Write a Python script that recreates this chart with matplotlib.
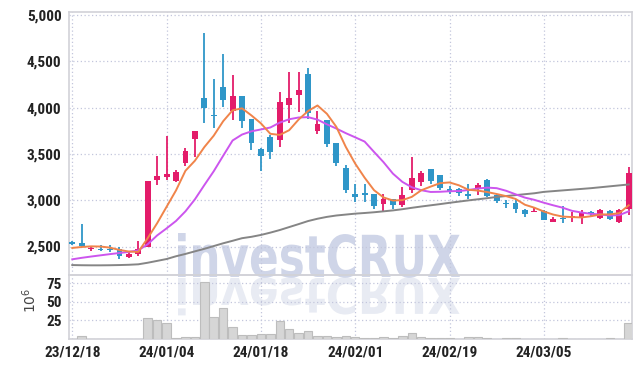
import numpy as np
import matplotlib
matplotlib.use('Agg')
import matplotlib.pyplot as plt
from matplotlib import font_manager
from matplotlib.textpath import TextPath
from matplotlib.patches import PathPatch
from matplotlib.font_manager import FontProperties
from matplotlib.transforms import Affine2D

# daily candles, trading days from 23/12/18
opens = [2550, 2540, 2478, 2472, 2475, 2478, 2392, 2418, 2500, 3215,
         3255, 3210, 3405, 3660, 4100, 3915, 4220, 3960, 4120, 3875,
         3550, 3680, 3645, 4030, 4135, 4360, 3750, 3865, 3615, 3345,
         3065, 3080, 3065, 2960, 3010, 2950, 3110, 3195, 3335, 3270,
         3125, 3125, 3060, 3120, 3215, 3055, 2970, 2965, 2895, 2870,
         2887, 2762, 2808, 2818, 2805, 2875, 2812, 2882, 2770, 2905]
highs = [2555, 2740, 2510, 2515, 2520, 2490, 2445, 2565, 3210, 3475,
         3690, 3330, 3565, 3750, 4800, 4305, 4575, 4350, 4125, 3880,
         3560, 3705, 4170, 4380, 4380, 4425, 3965, 3870, 3620, 3375,
         3180, 3180, 3070, 3065, 3015, 3145, 3470, 3320, 3340, 3275,
         3155, 3130, 3170, 3190, 3225, 3070, 3000, 3010, 2910, 2930,
         2890, 2822, 2935, 2875, 2895, 2888, 2908, 2890, 2905, 3355]
lows = [2520, 2490, 2455, 2450, 2445, 2370, 2375, 2400, 2490, 3165,
        3220, 3195, 3365, 3470, 3830, 3785, 4005, 3865, 3775, 3540,
        3320, 3450, 3570, 3830, 3955, 3875, 3710, 3575, 3370, 3075,
        2980, 2985, 2900, 2870, 2910, 2925, 3075, 3155, 3175, 3110,
        3070, 3050, 3015, 3055, 3040, 2965, 2915, 2860, 2815, 2868,
        2785, 2760, 2750, 2770, 2745, 2822, 2798, 2790, 2758, 2840]
closes = [2525, 2505, 2488, 2460, 2462, 2400, 2418, 2472, 3205, 3265,
          3285, 3305, 3530, 3745, 4000, 3905, 4085, 4120, 3850, 3615,
          3480, 3520, 4060, 4105, 4190, 3940, 3820, 3610, 3400, 3110,
          3035, 3060, 2935, 3010, 2945, 3055, 3235, 3290, 3210, 3130,
          3095, 3080, 3052, 3165, 3050, 2990, 2962, 2905, 2850, 2887,
          2787, 2797, 2792, 2825, 2870, 2850, 2895, 2795, 2895, 3290]

ma_short = [2485, 2495, 2502, 2500, 2488, 2463, 2446, 2442, 2591, 2752,
            2929, 3106, 3318, 3426, 3573, 3697, 3853, 3971, 3992, 3915,
            3830, 3717, 3705, 3756, 3871, 3963, 4023, 3933, 3792, 3576,
            3395, 3243, 3108, 3030, 2997, 3001, 3036, 3107, 3147, 3184,
            3192, 3161, 3113, 3104, 3088, 3067, 3044, 3014, 2951, 2919,
            2878, 2845, 2823, 2818, 2814, 2827, 2846, 2847, 2861, 2945]
ma_mid = [2362, 2378, 2392, 2405, 2418, 2430, 2442, 2458, 2525, 2620,
          2696, 2776, 2880, 3009, 3163, 3313, 3480, 3645, 3709, 3744,
          3764, 3785, 3838, 3874, 3893, 3897, 3870, 3819, 3774, 3724,
          3679, 3633, 3521, 3411, 3287, 3198, 3140, 3108, 3089, 3091,
          3097, 3099, 3110, 3126, 3136, 3130, 3102, 3064, 3028, 3004,
          2973, 2945, 2919, 2885, 2867, 2853, 2846, 2835, 2839, 2880]
ma_long = [2300, 2298, 2297, 2297, 2298, 2300, 2303, 2308, 2325, 2345,
           2365, 2395, 2420, 2448, 2475, 2505, 2535, 2562, 2590, 2605,
           2625, 2650, 2678, 2710, 2742, 2775, 2800, 2820, 2835, 2845,
           2855, 2862, 2870, 2880, 2890, 2903, 2918, 2932, 2945, 2958,
           2972, 2985, 2998, 3010, 3022, 3035, 3045, 3055, 3065, 3075,
           3090, 3098, 3106, 3114, 3122, 3130, 3140, 3150, 3160, 3170]

# volume in millions
volumes = [0.3, 3.5, 0.3, 0.3, 0.3, 0.3, 0.3, 0.3, 28.6, 26.1,
           20.9, 1.7, 3.0, 3.0, 76.0, 30.0, 41.0, 15.5, 5.6, 5.6,
           6.8, 6.8, 24.8, 13.2, 8.1, 10.3, 4.3, 4.3, 3.0, 4.3,
           3.0, 1.7, 1.7, 3.0, 1.7, 4.3, 8.1, 3.0, 1.7, 1.7,
           1.5, 0.5, 2.1, 2.1, 2.0, 0.5, 2.0, 2.0, 0.5, 0.5,
           0.3, 0.3, 2.0, 0.3, 0.3, 0.3, 0.3, 2.0, 0.3, 20.9]

tick_labels = ['23/12/18', '24/01/04', '24/01/18', '24/02/01', '24/02/19', '24/03/05']

UP = '#e31c6a'
DOWN = '#2f96c8'
GRID = '#c3c6dc'
SPINE = '#d2d2d8'
W, H = 642, 368

# narrow face for the tick labels if one is around
have = {f.name for f in font_manager.fontManager.ttflist}
narrow = [f for f in ['Liberation Sans Narrow', 'DejaVu Sans Condensed', 'Roboto Condensed'] if f in have]
if narrow:
    tick_font = FontProperties(family=narrow[0], size=11, weight='bold')
else:
    tick_font = FontProperties(family='DejaVu Sans', size=11, stretch='condensed', weight='bold')

fig = plt.figure(figsize=(W / 100, H / 100), dpi=100)
fig.patch.set_facecolor('white')
ax = fig.add_axes([68.5 / W, 1 - 274.5 / H, (632 - 68.5) / W, (274.5 - 12) / H])
axv = fig.add_axes([68.5 / W, 1 - 339 / H, (632 - 68.5) / W, (339 - 274.5) / H], sharex=ax)

# watermark + its reflection (behind everything)
fp = FontProperties(family='DejaVu Sans', weight='bold')
tp = TextPath((0, 0), 'investCRUX', size=1, prop=fp)
ext = tp.get_extents()
sx = 282 / ext.width
sy = 44 / ext.y1
tr_main = Affine2D().translate(-ext.x0, 0).scale(sx, sy).translate(178, H - 277)
tr_refl = Affine2D().translate(-ext.x0, 0).scale(sx, -sy * 0.85).translate(178, H - 278)
fig.add_artist(PathPatch(tp, transform=tr_refl, facecolor='#e8ebf3', edgecolor='none', zorder=-2))
fig.add_artist(PathPatch(tp, transform=tr_main, facecolor='#cfd5e8', edgecolor='none', zorder=-2))

n = len(closes)
idx = np.arange(n)
o = np.array(opens)
c = np.array(closes)
colors = [UP if cc >= oo else DOWN for oo, cc in zip(o, c)]

for a in (ax, axv):
    a.set_facecolor('none')
    a.grid(True, color=GRID, linestyle=(0, (1, 2)), linewidth=0.9)
    a.set_axisbelow(True)
    for s in a.spines.values():
        s.set_color(SPINE)
        s.set_linewidth(1.2)
    a.tick_params(length=0)

# candles
ax.vlines(idx, lows, highs, colors=colors, linewidth=1.3, zorder=3)
tiny = np.abs(c - o) < 12
body = np.where(tiny, 12, c - o)
ax.bar(idx, body, bottom=np.where(tiny, (o + c) / 2 - 6, o),
       width=0.62, color=colors, zorder=4)

ax.plot(idx, ma_long, color='#858585', linewidth=1.4, zorder=5)
ax.plot(idx, ma_mid, color='#cc55ee', linewidth=1.4, zorder=5)
ax.plot(idx, ma_short, color='#f0844a', linewidth=1.4, zorder=5)

ax.set_ylim(2198, 5032)
ax.set_yticks([2500, 3000, 3500, 4000, 4500, 5000])
ax.set_yticklabels([f'{v:,}' for v in [2500, 3000, 3500, 4000, 4500, 5000]],
                   fontproperties=tick_font, color='#222222')
ax.tick_params(axis='x', labelbottom=False)
ax.set_xlim(-0.4, 59.35)

axv.bar(idx, volumes, width=0.9, color='#d6d6d6', edgecolor='#bdbdbd', linewidth=0.8, zorder=3)
axv.set_ylim(0, 86.5)
axv.set_yticks([25, 50, 75])
axv.set_yticklabels(['25', '50', '75'], fontproperties=tick_font, color='#222222')
axv.set_xticks(idx[::10])
axv.set_xticklabels(tick_labels, fontproperties=tick_font, color='#222222')
axv.tick_params(axis='x', pad=5)
axv.tick_params(axis='y', pad=5)
ax.tick_params(axis='y', pad=5)
fig.text(30 / W, 1 - 300 / H, r'$10^6$', rotation=90, ha='center', va='center',
         fontsize=10, color='#444444')

fig.savefig('out.png', dpi=100)
